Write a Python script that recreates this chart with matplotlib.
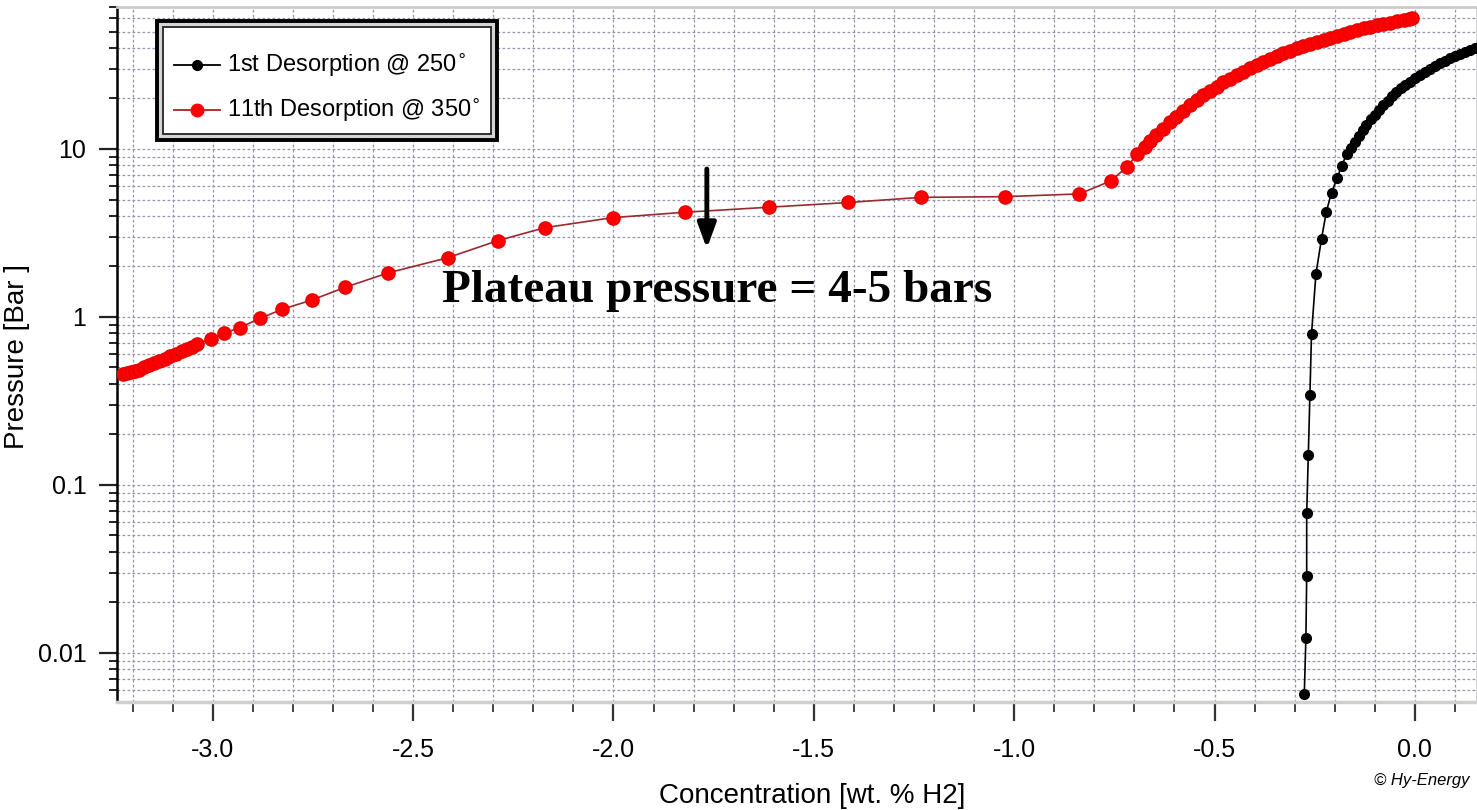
import matplotlib
matplotlib.use("Agg")
import matplotlib.pyplot as plt
from matplotlib.ticker import MultipleLocator, LogLocator, FixedLocator, FixedFormatter, NullFormatter
from matplotlib.patches import Rectangle
from matplotlib.lines import Line2D

SANS = ["Liberation Sans Narrow", "Liberation Sans", "DejaVu Sans"]
SERIF = ["Liberation Serif", "DejaVu Serif"]
plt.rcParams["font.family"] = SANS

# 1st desorption @ 250 (black)
conc_1st = [-0.276, -0.272, -0.270, -0.270, -0.266, -0.262, -0.258, -0.247, -0.233, -0.221,
            -0.208, -0.194, -0.183, -0.170, -0.160, -0.150, -0.140, -0.130, -0.121, -0.110,
            -0.100, -0.090, -0.079, -0.068, -0.057, -0.046, -0.035, -0.024, -0.012, 0.000,
            0.012, 0.024, 0.037, 0.050, 0.062, 0.075, 0.087, 0.100, 0.112, 0.125,
            0.137, 0.150, 0.162]
pres_1st = [0.0057, 0.0123, 0.0287, 0.0678, 0.151, 0.343, 0.789, 1.80, 2.92, 4.23,
            5.5, 6.7, 7.95, 9.3, 10.2, 11.0, 12.0, 13.0, 13.9, 15.0,
            16.0, 17.1, 18.2, 19.4, 20.6, 21.8, 23.0, 24.1, 25.2, 26.3,
            27.5, 28.7, 30.0, 31.2, 32.4, 33.6, 34.7, 35.9, 37.0, 38.0,
            39.0, 40.0, 40.8]

# 11th desorption @ 350 (red)
conc_11th = [-3.225, -3.215, -3.205, -3.195, -3.185, -3.172, -3.160, -3.147, -3.134, -3.120,
             -3.106, -3.092, -3.078, -3.064, -3.052, -3.040, -3.005, -2.971, -2.932, -2.882,
             -2.827, -2.753, -2.670, -2.562, -2.414, -2.288, -2.171, -2.002, -1.822, -1.612,
             -1.414, -1.233, -1.023, -0.837, -0.759, -0.718, -0.693, -0.674, -0.660, -0.645,
             -0.628, -0.611, -0.595, -0.578, -0.562, -0.545, -0.528, -0.512, -0.495, -0.478,
             -0.462, -0.445, -0.428, -0.412, -0.395, -0.378, -0.362, -0.345, -0.329, -0.312,
             -0.295, -0.279, -0.262, -0.245, -0.228, -0.212, -0.195, -0.178, -0.162, -0.145,
             -0.128, -0.112, -0.095, -0.079, -0.062, -0.045, -0.028, -0.015, -0.008]
pres_11th = [0.46, 0.465, 0.47, 0.475, 0.485, 0.50, 0.515, 0.53, 0.55, 0.565,
             0.585, 0.605, 0.625, 0.645, 0.665, 0.69, 0.74, 0.80, 0.865, 0.98,
             1.11, 1.26, 1.50, 1.83, 2.25, 2.85, 3.4, 3.9, 4.2, 4.5,
             4.8, 5.15, 5.2, 5.4, 6.45, 7.85, 9.3, 10.3, 11.1, 12.1,
             13.2, 14.5, 15.6, 16.9, 18.3, 19.5, 20.9, 22.2, 23.5, 24.9,
             26.2, 27.5, 28.9, 30.2, 31.6, 33.0, 34.4, 35.8, 37.2, 38.5,
             39.8, 41.0, 42.3, 43.5, 44.8, 46.0, 47.3, 48.6, 49.9, 51.0,
             52.2, 53.3, 54.4, 55.5, 56.6, 57.6, 58.6, 59.4, 60.0]

x_major = [-3.0, -2.5, -2.0, -1.5, -1.0, -0.5, 0.0]
x_labels = ["-3.0", "-2.5", "-2.0", "-1.5", "-1.0", "-0.5", "0.0"]
y_major = [0.01, 0.1, 1, 10]
y_labels = ["0.01", "0.1", "1", "10"]

W, H = 1477, 810
fig = plt.figure(figsize=(W / 100, H / 100), dpi=100)
ax = fig.add_axes([117 / W, 1 - 702 / H, (W - 117) / W, (702 - 7) / H])
ax.set_yscale("log")
ax.set_xlim(-3.239, 0.155)
ax.set_ylim(0.0051, 70)

# ticks
ax.xaxis.set_major_locator(FixedLocator(x_major))
ax.xaxis.set_major_formatter(FixedFormatter(x_labels))
ax.xaxis.set_minor_locator(MultipleLocator(0.1))
ax.yaxis.set_major_locator(FixedLocator(y_major))
ax.yaxis.set_major_formatter(FixedFormatter(y_labels))
ax.yaxis.set_minor_locator(LogLocator(base=10, subs=[2, 3, 4, 5, 6, 7, 8, 9], numticks=20))
ax.yaxis.set_minor_formatter(NullFormatter())

ax.tick_params(axis="x", which="major", length=14, width=1.6, pad=12, labelsize=18, color="#333333")
ax.tick_params(axis="x", which="minor", length=7, width=1.4, color="#444444")
ax.tick_params(axis="y", which="major", length=13, width=1.6, pad=9, labelsize=18, color="#222222")
ax.tick_params(axis="y", which="minor", length=5.5, width=1.4, color="#222222")

ax.grid(which="both", axis="both", linestyle=(0, (2.2, 1.8)), color="#9494ac", linewidth=0.9)
ax.set_axisbelow(True)

for side in ("top", "right"):
    ax.spines[side].set_color("#cccccc")
    ax.spines[side].set_linewidth(2)
ax.spines["bottom"].set_color("#cfcfcf")
ax.spines["bottom"].set_linewidth(2.5)
ax.spines["left"].set_color("black")
ax.spines["left"].set_linewidth(1.8)

# series
ax.plot(conc_1st, pres_1st, "-", color="black", lw=1.2, marker="o", ms=7,
        mfc="black", mec="black", zorder=3, clip_on=False)
ax.plot(conc_11th, pres_11th, "-", color="#9b2a30", lw=1.2, marker="o", ms=9.5,
        mfc="#ff0000", mec="#e80000", zorder=4)

ax.set_xlabel("Concentration [wt. % H2]", fontsize=20, va="top")
ax.xaxis.set_label_coords((812 - 117) / 1360, -0.1166)
ax.set_ylabel("Pressure [Bar ]", fontsize=20)
ax.yaxis.set_label_coords(-0.064, 0.497)

# annotation
ax.annotate("", xy=(-1.767, 2.55), xytext=(-1.767, 7.6),
            arrowprops=dict(arrowstyle="-|>,head_length=1.5,head_width=0.55",
                            lw=3.5, color="black", shrinkA=0, shrinkB=0), zorder=6)
ax.text(-2.428, 1.23, "Plateau pressure = 4-5 bars", family=SERIF, fontweight="bold",
        fontsize=34, ha="left", va="baseline", zorder=6)

# legend box
outer = Rectangle((157 / W, 1 - 140 / H), 340 / W, 119 / H, transform=fig.transFigure,
                  facecolor="#d4d4d4", edgecolor="black", lw=2.8, zorder=5)
inner = Rectangle((163 / W, 1 - 134 / H), 328 / W, 107 / H, transform=fig.transFigure,
                  facecolor="white", edgecolor="#222222", lw=1.3, zorder=5)
fig.add_artist(outer)
fig.add_artist(inner)
legend_rows = [("1st Desorption @ 250$^{\\circ}$", "black", "black", 7, 65),
               ("11th Desorption @ 350$^{\\circ}$", "#b02020", "#ff0000", 9, 110)]
for label, lc, mc, ms, ypx in legend_rows:
    y = 1 - ypx / H
    fig.add_artist(Line2D([174 / W, 197 / W, 220 / W], [y, y, y], transform=fig.transFigure,
                          color=lc, lw=1.3, marker="o", ms=ms, mfc=mc, mec=mc,
                          markevery=[1], zorder=6))
    fig.text(227 / W, y, label, fontsize=17, va="center", ha="left", zorder=6)

fig.text(1470 / W, 1 - 781 / H, "\u00a9 Hy-Energy", fontsize=12, style="italic",
         va="center", ha="right")

fig.savefig("out.png", dpi=100)
